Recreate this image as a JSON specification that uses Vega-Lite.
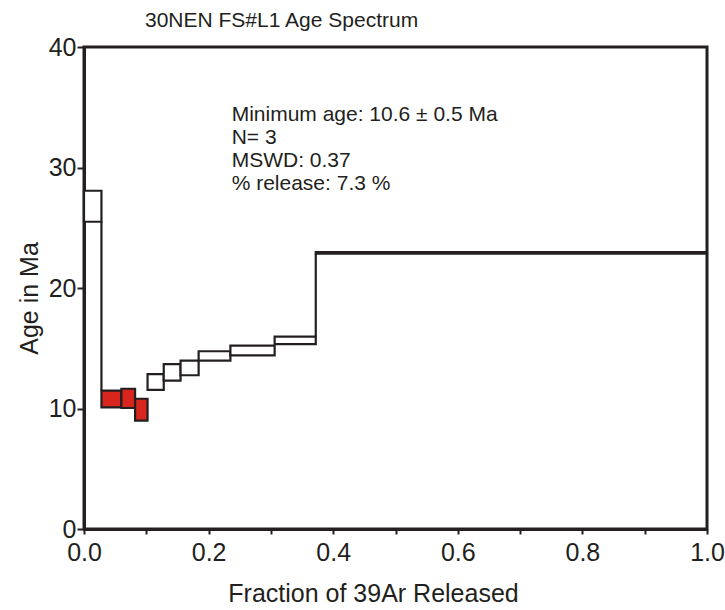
{
  "$schema": "https://vega.github.io/schema/vega-lite/v6.json",
  "autosize": "none",
  "width": 623,
  "height": 482,
  "padding": {"left": 84, "top": 47, "right": 18, "bottom": 81},
  "background": "white",
  "title": {
    "text": "30NEN FS#L1 Age Spectrum",
    "anchor": "start",
    "frame": "group",
    "dx": 61,
    "offset": 9,
    "dy": 22,
    "baseline": "alphabetic",
    "font": "Liberation Sans",
    "fontSize": 21,
    "fontWeight": "normal",
    "color": "#231f20"
  },
  "config": {
    "view": {"stroke": "#231f20", "strokeWidth": 3},
    "axis": {
      "domainColor": "#231f20",
      "domainWidth": 3,
      "tickColor": "#231f20",
      "tickWidth": 2,
      "grid": false,
      "labelFont": "Liberation Sans",
      "labelFontSize": 25,
      "labelColor": "#231f20",
      "titleFont": "Liberation Sans",
      "titleFontSize": 25,
      "titleFontWeight": "normal",
      "titleColor": "#231f20"
    }
  },
  "datasets": {
    "steps": [
      {"step": 1, "f0": 0.0, "f1": 0.028, "lo": 25.5, "hi": 28.07, "used": "no"},
      {"step": 2, "f0": 0.028, "f1": 0.060, "lo": 10.10, "hi": 11.48, "used": "yes"},
      {"step": 3, "f0": 0.060, "f1": 0.082, "lo": 10.04, "hi": 11.64, "used": "yes"},
      {"step": 4, "f0": 0.082, "f1": 0.102, "lo": 8.99, "hi": 10.81, "used": "yes"},
      {"step": 5, "f0": 0.102, "f1": 0.128, "lo": 11.54, "hi": 12.86, "used": "no"},
      {"step": 6, "f0": 0.128, "f1": 0.155, "lo": 12.31, "hi": 13.69, "used": "no"},
      {"step": 7, "f0": 0.155, "f1": 0.184, "lo": 12.76, "hi": 13.97, "used": "no"},
      {"step": 8, "f0": 0.184, "f1": 0.235, "lo": 13.97, "hi": 14.75, "used": "no"},
      {"step": 9, "f0": 0.235, "f1": 0.306, "lo": 14.41, "hi": 15.21, "used": "no"},
      {"step": 10, "f0": 0.306, "f1": 0.372, "lo": 15.35, "hi": 15.96, "used": "no"},
      {"step": 11, "f0": 0.372, "f1": 1.0, "lo": 22.85, "hi": 22.98, "used": "no"}
    ],
    "links": [
      {"f": 0.028, "a0": 11.48, "a1": 25.5},
      {"f": 0.372, "a0": 15.96, "a1": 22.85}
    ],
    "notes": [
      {"line": "Minimum age: 10.6 ± 0.5 Ma", "f": 0.237, "age": 33.86},
      {"line": "N= 3", "f": 0.237, "age": 31.95},
      {"line": "MSWD: 0.37", "f": 0.237, "age": 30.04},
      {"line": "% release: 7.3 %", "f": 0.237, "age": 28.13}
    ]
  },
  "layer": [
    {
      "data": {"name": "links"},
      "mark": {"type": "rule", "color": "#231f20", "strokeWidth": 2.2},
      "encoding": {
        "x": {"field": "f", "type": "quantitative"},
        "y": {"field": "a0", "type": "quantitative"},
        "y2": {"field": "a1"}
      }
    },
    {
      "data": {"name": "steps"},
      "mark": {"type": "rect", "stroke": "#231f20", "strokeWidth": 2.2},
      "encoding": {
        "x": {
          "field": "f0",
          "type": "quantitative",
          "scale": {"domain": [0, 1], "nice": false},
          "axis": {
            "title": "Fraction of 39Ar Released",
            "values": [0, 0.1, 0.2, 0.3, 0.4, 0.5, 0.6, 0.7, 0.8, 0.9, 1.0],
            "labelExpr": "round(datum.value * 10) % 2 == 0 ? format(datum.value, '.1f') : ''",
            "tickSize": 5,
            "labelPadding": 6,
            "labelFlush": false,
            "titleX": 289,
            "titleY": 72,
            "titleBaseline": "alphabetic",
            "titleAnchor": "middle",
            "titleAlign": "center"
          }
        },
        "x2": {"field": "f1"},
        "y": {
          "field": "lo",
          "type": "quantitative",
          "scale": {"domain": [0, 40], "nice": false},
          "axis": {
            "title": "Age in Ma",
            "values": [0, 10, 20, 30, 40],
            "tickSize": 7,
            "labelPadding": 1,
            "labelFlush": false,
            "titleX": -47,
            "titleY": 251,
            "titleBaseline": "alphabetic",
            "titleAngle": 270,
            "titleAlign": "center",
            "titleAnchor": "middle"
          }
        },
        "y2": {"field": "hi"},
        "fill": {
          "field": "used",
          "type": "nominal",
          "scale": {"domain": ["no", "yes"], "range": ["#ffffff", "#d8261e"]},
          "legend": null
        }
      }
    },
    {
      "data": {"name": "notes"},
      "mark": {"type": "text", "align": "left", "baseline": "alphabetic", "font": "Liberation Sans", "fontSize": 21, "color": "#231f20"},
      "encoding": {
        "x": {"field": "f", "type": "quantitative"},
        "y": {"field": "age", "type": "quantitative"},
        "text": {"field": "line"}
      }
    }
  ]
}
